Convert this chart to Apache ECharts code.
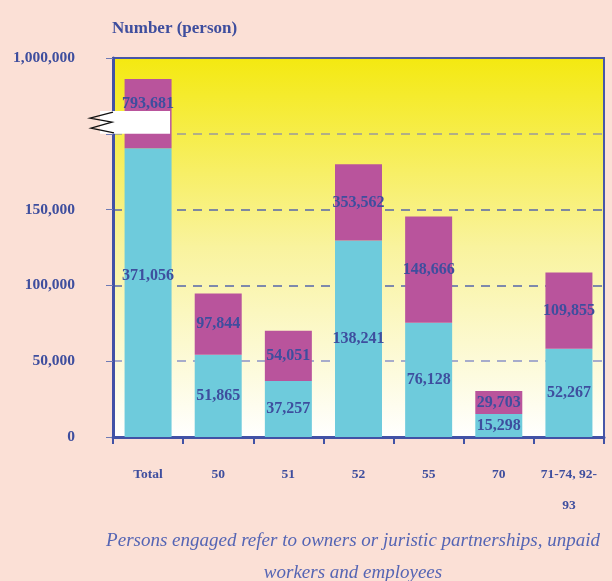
<!doctype html>
<html>
<head>
<meta charset="utf-8">
<title>Persons engaged</title>
<script src="https://cdn.jsdelivr.net/npm/echarts@6/dist/echarts.min.js"></script>
<style>
  html, body { margin: 0; padding: 0; background: #fbe0d6; }
  #chart { width: 612px; height: 581px; }
</style>
</head>
<body>
<div id="chart"></div>
<script>
// categories along the x axis
var categories = ['Total', '50', '51', '52', '55', '70', '71-74, 92-\n93'];
// drawn heights (axis is broken above 200,000)
var lowerHeights = [190500, 54200, 37000, 129600, 75400, 15200, 58200];
var upperHeights = [236100, 94600, 70100, 179900, 145500, 30400, 108500];
// printed numbers on the bars
var lowerLabels = ['371,056', '51,865', '37,257', '138,241', '76,128', '15,298', '52,267'];
var upperLabels = ['793,681', '97,844', '54,051', '353,562', '148,666', '29,703', '109,855'];
// y tick labels (last one sits above the break)
var yTicks = { 0: '0', 50000: '50,000', 100000: '100,000', 150000: '150,000', 200000: '', 250000: '1,000,000' };

var serif = 'Liberation Serif, Times New Roman, serif';
var ink = '#3e4e9e';

var chart = echarts.init(document.getElementById('chart'));

var lowerData = lowerHeights.map(function (v, i) {
    var item = { value: v };
    if (i === 0) item.label = { offset: [0, -17] };
    return item;
});
var upperData = upperHeights.map(function (v, i) {
    var item = { value: v - lowerHeights[i] };
    if (i === 0) item.label = { offset: [0, -10] };
    return item;
});

var barLabel = function (texts) {
    return {
        show: true,
        position: 'inside',
        color: ink,
        fontFamily: serif,
        fontWeight: 'bold',
        fontSize: 16,
        formatter: function (p) { return texts[p.dataIndex]; }
    };
};

chart.setOption({
    backgroundColor: '#fbe0d6',
    animation: false,
    title: {
        text: 'Number (person)',
        left: 107, top: 15,
        textStyle: { color: ink, fontFamily: serif, fontWeight: 'bold', fontSize: 17 }
    },
    grid: {
        left: 113, right: 8, top: 58, bottom: 144,
        show: true,
        borderColor: '#4757a8',
        borderWidth: 2,
        backgroundColor: new echarts.graphic.LinearGradient(0, 0, 0, 1, [
            { offset: 0, color: '#f4e910' },
            { offset: 0.5, color: '#f9f39e' },
            { offset: 1, color: '#ffffff' }
        ])
    },
    xAxis: {
        type: 'category',
        data: categories,
        axisLine: { lineStyle: { color: '#4152a6', width: 3 } },
        axisTick: { show: true, length: 7, lineStyle: { color: '#4152a6', width: 2 } },
        axisLabel: {
            color: ink, fontFamily: serif, fontWeight: 'bold', fontSize: 13.5,
            lineHeight: 31, margin: 22, interval: 0
        }
    },
    yAxis: {
        type: 'value',
        min: 0, max: 250000, interval: 50000,
        axisLine: { show: true, lineStyle: { color: '#4152a6', width: 3 } },
        axisTick: { show: true, length: 7, lineStyle: { color: '#6d7ab4', width: 1 } },
        axisLabel: {
            color: ink, fontFamily: serif, fontWeight: 'bold', fontSize: 15.5, margin: 38,
            formatter: function (v) { return yTicks[v]; }
        },
        splitLine: {
            show: true,
            lineStyle: {
                type: [9, 7],
                width: 1.5,
                color: ['#5566aa', '#8b93c6', '#5566aa', '#5566aa', '#9a9a9a', '#4757a8']
            }
        }
    },
    series: [
        {
            type: 'bar', stack: 'p', barWidth: '67%',
            itemStyle: { color: '#6ecbdc' },
            label: barLabel(lowerLabels),
            data: lowerData
        },
        {
            type: 'bar', stack: 'p', barWidth: '67%',
            itemStyle: { color: '#b9549c' },
            label: barLabel(upperLabels),
            data: upperData
        }
    ]
});

// axis break marker over the Total bar
var cx = chart.convertToPixel({ xAxisIndex: 0 }, 'Total');
var yLo = chart.convertToPixel({ yAxisIndex: 0 }, 200000);
var yHi = chart.convertToPixel({ yAxisIndex: 0 }, 215000);
var x0 = 100;
var h = yLo - yHi;
chart.setOption({
    graphic: [
        {
            type: 'rect', z: 100,
            shape: { x: x0, y: yHi, width: cx + 22 - x0, height: h },
            style: { fill: '#ffffff' }
        },
        {
            type: 'polyline', z: 101,
            shape: { points: [
                [x0 + 13, yHi + 1], [x0 - 10, yHi + 7], [x0 + 12, yHi + 11],
                [x0 - 9, yHi + 17], [x0 + 14, yHi + h - 1]
            ] },
            style: { stroke: '#111111', lineWidth: 1.3, fill: null }
        },
        {
            type: 'text', z: 100,
            x: 353, y: 525,
            style: {
                text: 'Persons engaged refer to owners or juristic partnerships, unpaid\nworkers and employees',
                textAlign: 'center',
                fill: '#5565b4',
                font: 'italic 19px ' + serif,
                lineHeight: 32
            }
        }
    ]
});
</script>
</body>
</html>
